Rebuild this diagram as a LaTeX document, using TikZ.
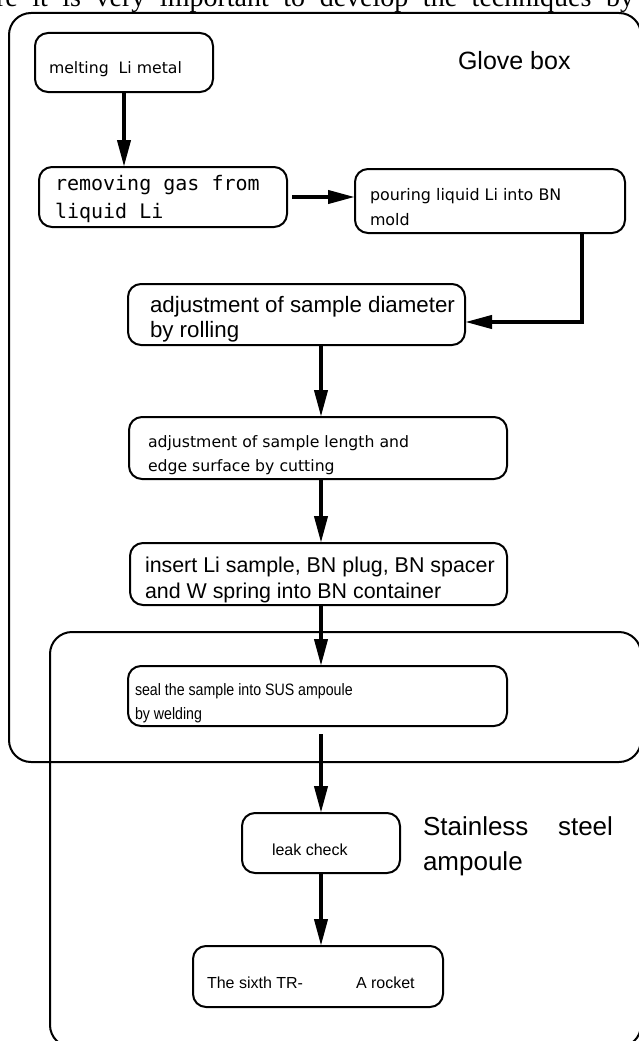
\documentclass[tikz,border=0pt]{standalone}
\usepackage{fontspec}
\setmainfont{Liberation Sans}
\newfontfamily\gothic{DejaVu Sans}
\newfontfamily\gothicmono{DejaVu Sans Mono}
\newfontfamily\narrowsans[FakeStretch=0.86]{Liberation Sans}
\newfontfamily\bodyserif{Liberation Serif}
\usetikzlibrary{arrows.meta,calc}

% two lines of text with a given baseline distance; the box baseline is the first line
\newcommand{\twoline}[3]{\vtop{\baselineskip=#3\hbox{#1}\hbox{#2}}}

\tikzset{
  stepbox/.style={draw, line width=2pt, rounded corners=13pt, inner sep=0pt, outer sep=0pt},
  frame/.style={draw, line width=2pt, rounded corners=22pt},
  flow/.style={line width=4pt, -{Triangle[length=27pt,width=13pt]}},
  txt/.style={anchor=base west, inner sep=0pt, outer sep=0pt},
  gfont/.style={font=\gothic\fontsize{15.7}{24}\selectfont},
}

\begin{document}
\begin{tikzpicture}[x=1pt,y=-1pt]
\useasboundingbox (0,0) rectangle (638,1041);

% last line of the page text above the figure
\node[txt, font=\bodyserif\fontsize{28}{32}\selectfont] (para) at (-4,7)
  {\makebox[638pt][s]{re it is very important to develop the techniques by}};

% enclosures
\draw[frame] (9,13) rectangle (641,762);
\draw[frame] (50,632) rectangle (641,1047);
\node[txt, font=\fontsize{25}{30}\selectfont] (glove) at (458,70) {Glove box};
\node[txt, font=\fontsize{26}{35}\selectfont] (ampl) at (423,835)
  {\twoline{\hbox to 190pt{Stainless\hfill steel}}{ampoule}{35pt}};

% process steps
\node[stepbox, minimum width=178pt, minimum height=59pt] (melt) at (124,62.5) {};
\node[txt, gfont] (meltT) at (49,74) {melting\ \ Li metal};

\node[stepbox, minimum width=248pt, minimum height=60pt] (rem) at (163,197) {};
\node[txt, font=\gothicmono\fontsize{20}{28}\selectfont] (remT) at (55,190)
  {\twoline{removing gas from}{liquid Li}{28pt}};

\node[stepbox, minimum width=270pt, minimum height=64pt] (pour) at (490,201) {};
\node[txt, font=\gothic\fontsize{15.9}{25}\selectfont] (pourT) at (370,200)
  {\twoline{pouring liquid Li into BN}{mold}{25pt}};

\node[stepbox, minimum width=337pt, minimum height=61pt] (roll) at (296.5,314.5) {};
\node[txt, font=\fontsize{22.3}{25}\selectfont] (rollT) at (150,312)
  {\twoline{adjustment of sample diameter}{by rolling}{25pt}};

\node[stepbox, minimum width=378pt, minimum height=62pt] (cut) at (318,448) {};
\node[txt, gfont] (cutT) at (148,447)
  {\twoline{adjustment of sample length and}{edge surface by cutting}{24pt}};

\node[stepbox, minimum width=377pt, minimum height=62pt] (ins) at (318.5,574) {};
\node[txt, font=\fontsize{21.4}{26}\selectfont] (insT) at (145,572)
  {\twoline{insert Li sample, BN plug, BN spacer}{and W spring into BN container}{26pt}};

\node[stepbox, minimum width=379pt, minimum height=60pt] (seal) at (317.5,696) {};
\node[txt, font=\narrowsans\fontsize{16.5}{24}\selectfont] (sealT) at (135,695)
  {\twoline{seal the sample into SUS ampoule}{by welding}{24pt}};

\node[stepbox, minimum width=158pt, minimum height=60pt] (leak) at (321,843) {};
\node[txt, font=\fontsize{16}{20}\selectfont] (leakT) at (272,855) {leak check};

\node[stepbox, minimum width=250pt, minimum height=61pt] (rock) at (318,976.5) {};
\node[txt, font=\fontsize{16}{20}\selectfont] (rockT) at (207,988)
  {The sixth TR-\hspace{53pt}A rocket};

% connectors
\coordinate (spine) at (321,0);
\coordinate (bend) at (582,322);
\draw[flow] (melt.south) -- (melt.south |- rem.north);
\draw[flow] ($(rem.east)+(5,0)$) -- (rem.east -| pour.west);
\draw[flow] (pour.south -| bend) -- (bend) -- (bend -| roll.east);
\draw[flow] (roll.south -| spine) -- (cut.north -| spine);
\draw[flow] (cut.south -| spine) -- (ins.north -| spine);
\draw[flow] (ins.south -| spine) -- (seal.north -| spine);
\draw[flow] ($(seal.south -| spine)+(0,8)$) -- (leak.north -| spine);
\draw[flow] (leak.south -| spine) -- (rock.north -| spine);
\end{tikzpicture}
\end{document}
